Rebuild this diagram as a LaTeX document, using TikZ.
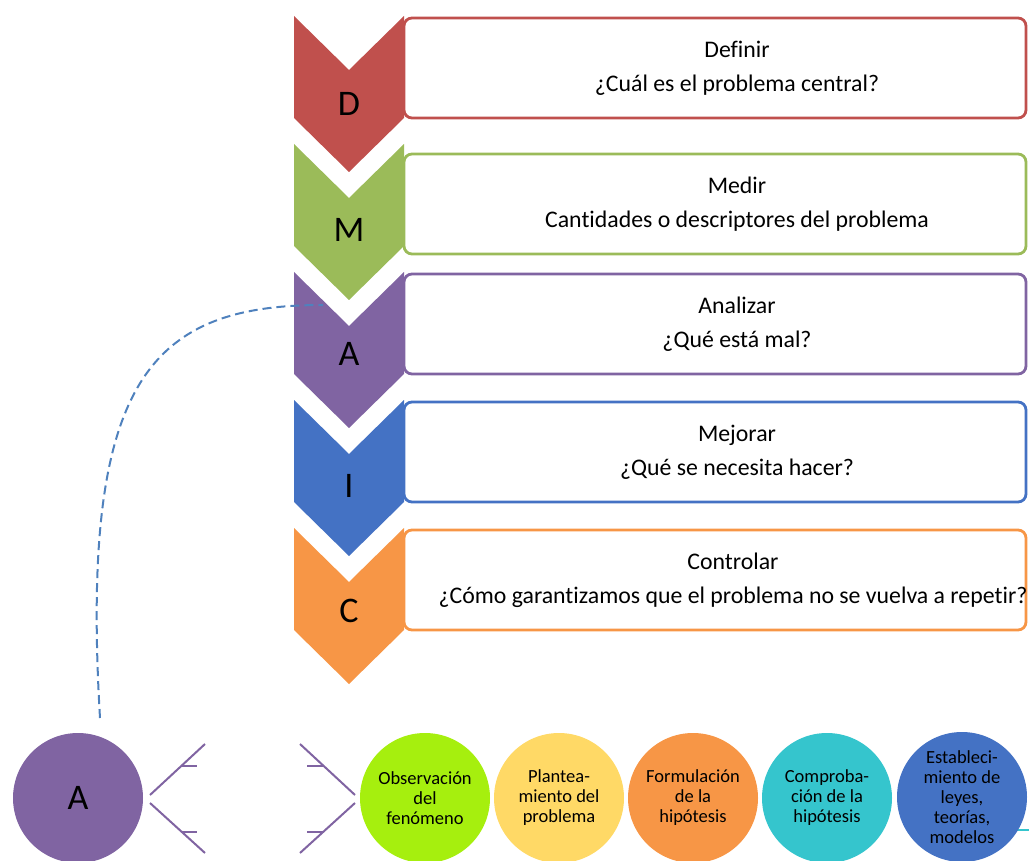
\documentclass[tikz,border=0pt]{standalone}
\usepackage{fontspec}
\setmainfont{Carlito}[Ligatures=NoCommon]

\definecolor{colD}{HTML}{C0504D}
\definecolor{colM}{HTML}{9BBB59}
\definecolor{colA}{HTML}{8064A2}
\definecolor{colI}{HTML}{4472C4}
\definecolor{colC}{HTML}{F79646}
\definecolor{colObs}{HTML}{A6EF0E}
\definecolor{colPlan}{HTML}{FFD966}
\definecolor{colForm}{HTML}{F79646}
\definecolor{colComp}{HTML}{35C5CD}
\definecolor{colEst}{HTML}{4472C4}
\definecolor{colDash}{HTML}{4F81BD}

\begin{document}
\begin{tikzpicture}[x=1pt, y=-1pt,
    stepbox/.style={draw, fill=white, line width=2.8pt, rounded corners=8pt,
      minimum width=622pt, minimum height=100pt, inner sep=0pt},
    boxtext/.style={align=center, font=\fontsize{23.8}{34}\selectfont},
    letter/.style={font=\fontsize{36}{40}\selectfont},
    phase/.style={circle, minimum size=130pt, inner sep=0pt, align=center,
      font=\fontsize{18.5}{20}\selectfont},
    brace/.style={draw=colA, line width=2pt},
    dashline/.style={draw=colDash, line width=2pt, dash pattern=on 9pt off 5pt}]
    \useasboundingbox (0,0) rectangle (1029,861);

    % boxes at the right
    \node[stepbox, draw=colD] (bD) at (715,68) {};
    \node[stepbox, draw=colM] (bM) at (715,204) {};
    \node[stepbox, draw=colA] (bA) at (715,324) {};
    \node[stepbox, draw=colI] (bI) at (715,452) {};
    \node[stepbox, draw=colC] (bC) at (715,580) {};

    % chevrons
    \fill[colD] (294,16) -- (349,70) -- (404,16) -- (404,118) -- (349,172) -- (294,118) -- cycle;
    \fill[colM] (294,144) -- (349,198) -- (404,144) -- (404,246) -- (349,300) -- (294,246) -- cycle;
    \fill[colA] (294,272) -- (349,326) -- (404,272) -- (404,374) -- (349,428) -- (294,374) -- cycle;
    \fill[colI] (294,400) -- (349,454) -- (404,400) -- (404,502) -- (349,556) -- (294,502) -- cycle;
    \fill[colC] (294,528) -- (349,582) -- (404,528) -- (404,630) -- (349,684) -- (294,630) -- cycle;

    \node[letter] (lD) at (349,104) {D};
    \node[letter] (lM) at (349,230) {M};
    \node[letter] (lA) at (349,354) {A};
    \node[letter] (lI) at (349,486) {I};
    \node[letter] (lC) at (349,611) {C};

    \node[boxtext] (tD) at (737,68) {Definir\\¿Cuál es el problema central?};
    \node[boxtext] (tM) at (737,204) {Medir\\Cantidades o descriptores del problema};
    \node[boxtext] (tA) at (737,324) {Analizar\\¿Qué está mal?};
    \node[boxtext] (tI) at (737,452) {Mejorar\\¿Qué se necesita hacer?};
    \node[boxtext] (tC) at (733,580) {Controlar\\¿Cómo garantizamos que el problema no se vuelva a repetir?};

    % bottom row
    \node[phase, fill=colA, font=\fontsize{36}{40}\selectfont] (cA) at (78,798) {A};

    \draw[brace] (205,744) -- (150,795);
    \draw[brace] (150,803) -- (205,853);
    \draw[brace] (182,766) -- (197,766);
    \draw[brace] (182,832) -- (197,832);
    \draw[brace] (300,744) -- (355,795);
    \draw[brace] (355,803) -- (300,853);
    \draw[brace] (307,766) -- (323,766);
    \draw[brace] (307,832) -- (323,832);

    \draw[colComp, line width=1.5pt] (1000,830) -- (1035,830);

    \node[phase, fill=colObs] (cObs) at (425,798) {Observación\\del\\fenómeno};
    \node[phase, fill=colPlan] (cPlan) at (559,798) {Plantea-\\miento del\\problema};
    \node[phase, fill=colForm] (cForm) at (693,798) {Formulación\\de la\\hipótesis};
    \node[phase, fill=colComp] (cComp) at (827,798) {Comproba-\\ción de la\\hipótesis};
    \node[phase, fill=colEst] (cEst) at (962,797) {Estableci-\\miento de\\leyes,\\teorías,\\modelos};

    % dashed link
    \coordinate (dS) at (100,718);
    \coordinate (dE) at (323,305);
    \draw[dashline] (dS) .. controls (80,380) and (150,305) .. (dE);
\end{tikzpicture}
\end{document}
